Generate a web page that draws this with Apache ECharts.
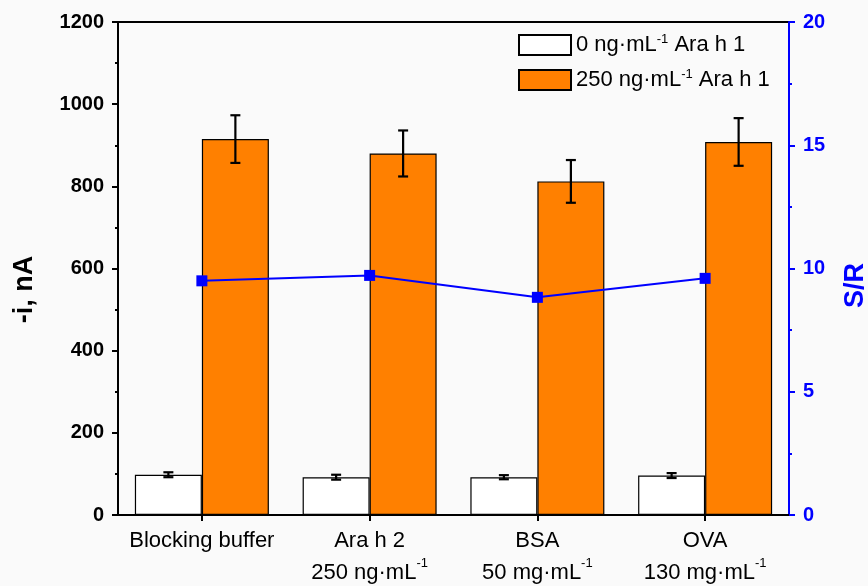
<!DOCTYPE html>
<html>
<head>
<meta charset="utf-8">
<script src="https://cdn.jsdelivr.net/npm/echarts@6/dist/echarts.min.js"></script>
<style>html,body{margin:0;padding:0;background:#fafafa;}#c{width:868px;height:586px;}</style>
</head>
<body>
<div id="c"></div>
<script>
const categories = ['Blocking buffer', 'Ara h 2|250 ng·mL', 'BSA|50 mg·mL', 'OVA|130 mg·mL'];
const blankValues = [98, 92, 92, 96];
const blankErrors = [6, 6, 5, 6];
const sampleValues = [915, 880, 812, 908];
const sampleErrors = [58, 56, 52, 58];
const srValues = [9.5, 9.72, 8.83, 9.6];
const leftTicks = { min: 0, max: 1200, interval: 200 };
const rightTicks = { min: 0, max: 20, interval: 5 };

const chart = echarts.init(document.getElementById('c'));
const FONT = '"Liberation Sans", Arial, sans-serif';

function errSeries(values, errors, offset) {
  return {
    type: 'custom',
    z: 10,
    silent: true,
    data: values.map((v, i) => [i, v, errors[i]]),
    renderItem: function (params, api) {
      const i = api.value(0), v = api.value(1), e = api.value(2);
      const hi = api.coord([i, v + e]);
      const lo = api.coord([i, v - e]);
      const x = hi[0] + offset;
      const cap = 5;
      const st = { stroke: '#000', lineWidth: 2.2 };
      return {
        type: 'group',
        children: [
          { type: 'line', shape: { x1: x, y1: hi[1], x2: x, y2: lo[1] }, style: st },
          { type: 'line', shape: { x1: x - cap, y1: hi[1], x2: x + cap, y2: hi[1] }, style: st },
          { type: 'line', shape: { x1: x - cap, y1: lo[1], x2: x + cap, y2: lo[1] }, style: st }
        ]
      };
    },
    yAxisIndex: 0
  };
}

const textRich = {
  a: { fontSize: 22, fontFamily: FONT, color: '#000', lineHeight: 24 },
  s: { fontSize: 13, fontFamily: FONT, color: '#000', lineHeight: 14, verticalAlign: 'top' }
};

chart.setOption({
  backgroundColor: '#fafafa',
  animation: false,
  grid: { left: 118, right: 79, top: 22, bottom: 71, outerBoundsMode: 'none', containLabel: false, show: true, borderColor: '#000', borderWidth: 2, backgroundColor: 'transparent' },
  legend: {
    orient: 'vertical',
    left: 513,
    top: 28,
    itemWidth: 52,
    itemHeight: 20,
    itemGap: 12,
    icon: 'rect',
    data: ['blank', 'sample'],
    formatter: function (name) {
      return name === 'blank'
        ? '{a|0 ng·mL}{s|-1}{a| Ara h 1}'
        : '{a|250 ng·mL}{s|-1}{a| Ara h 1}';
    },
    textStyle: { rich: textRich }
  },
  xAxis: {
    type: 'category',
    data: categories,
    axisLine: { lineStyle: { color: '#000', width: 2 } },
    axisTick: { show: true, alignWithLabel: true, inside: false, length: 6, lineStyle: { color: '#000', width: 2 } },
    axisLabel: {
      margin: 10,
      interval: 0,
      formatter: function (v) {
        const parts = v.split('|');
        if (parts.length === 1) return '{b|' + parts[0] + '}';
        return '{b|' + parts[0] + '}\n{b|' + parts[1] + '}{t|-1}';
      },
      rich: {
        b: { fontSize: 22, fontFamily: FONT, color: '#000', lineHeight: 32 },
        t: { fontSize: 13, fontFamily: FONT, color: '#000', lineHeight: 22, verticalAlign: 'top' }
      }
    }
  },
  yAxis: [
    {
      type: 'value',
      min: leftTicks.min, max: leftTicks.max, interval: leftTicks.interval,
      name: '-i, nA',
      nameLocation: 'middle',
      nameGap: 80,
      nameTextStyle: { fontSize: 27, fontWeight: 'bold', fontFamily: FONT, color: '#000', padding: [0, 42, 0, 0] },
      axisLine: { show: true, lineStyle: { color: '#000', width: 2 } },
      axisTick: { show: true, inside: false, length: 6, lineStyle: { color: '#000', width: 2 } },
      minorTick: { show: true, splitNumber: 2, length: 3, lineStyle: { color: '#000', width: 2 } },
      splitLine: { show: false },
      axisLabel: { fontSize: 20, fontWeight: 'bold', fontFamily: FONT, color: '#000', margin: 14, formatter: function (v) { return String(v); } }
    },
    {
      type: 'value',
      position: 'right',
      min: rightTicks.min, max: rightTicks.max, interval: rightTicks.interval,
      name: 'S/R',
      nameLocation: 'middle',
      nameGap: 53,
      nameRotate: 90,
      nameTextStyle: { fontSize: 27, fontWeight: 'bold', fontFamily: FONT, color: '#0000ff', padding: [0, 34, 0, 0] },
      axisLine: { show: true, lineStyle: { color: '#0000ff', width: 2 } },
      axisTick: { show: true, inside: false, length: 6, lineStyle: { color: '#0000ff', width: 2 } },
      minorTick: { show: true, splitNumber: 2, length: 3, lineStyle: { color: '#0000ff', width: 2 } },
      splitLine: { show: false },
      axisLabel: { fontSize: 20, fontWeight: 'bold', fontFamily: FONT, color: '#0000ff', margin: 14 }
    }
  ],
  series: [
    {
      name: 'blank', type: 'bar', data: blankValues, barWidth: 67, barGap: '0%',
      itemStyle: { color: '#ffffff', borderColor: '#000', borderWidth: 1.2 }
    },
    {
      name: 'sample', type: 'bar', data: sampleValues, barWidth: 67, barGap: '0%',
      itemStyle: { color: '#ff8000', borderColor: '#000', borderWidth: 1.2 }
    },
    errSeries(blankValues, blankErrors, -33.5),
    errSeries(sampleValues, sampleErrors, 33.5),
    {
      name: 'S/R', type: 'line', yAxisIndex: 1, data: srValues, z: 12,
      symbol: 'rect', symbolSize: 11,
      lineStyle: { color: '#0000ff', width: 2 },
      itemStyle: { color: '#0000ff' }
    }
  ]
});
</script>
</body>
</html>
